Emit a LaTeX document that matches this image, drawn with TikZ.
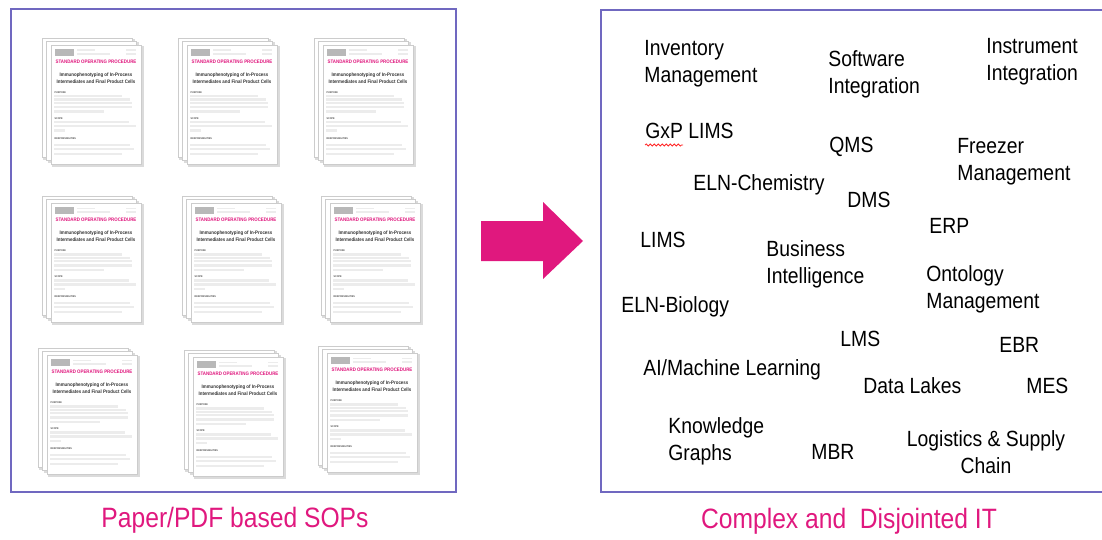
\documentclass[tikz,border=0pt]{standalone}
\usepackage{fontspec}
\setmainfont[FakeStretch=0.88]{Liberation Sans}
\usetikzlibrary{positioning}
\usetikzlibrary{decorations.pathmorphing}

\definecolor{sopPink}{RGB}{224,24,126}
\definecolor{frameBlue}{RGB}{112,104,192}
\definecolor{fillerGray}{RGB}{236,236,236}

\tikzset{
    itemtext/.style={anchor=base west, inner sep=0pt, align=left, font=\fontsize{11}{13.5}\selectfont},
    captiontext/.style={anchor=base, inner sep=0pt, text=sopPink, font=\fontsize{14}{16}\selectfont},
    sheet/.style={draw=black!20, fill=white, line width=0.3pt},
    sheetshadow/.style={fill=black!14},
    filler/.style={draw=fillerGray, line width=1.2pt},
    sopheading/.style={inner sep=0pt, text=sopPink, font=\fontsize{2.5}{3}\selectfont\bfseries},
    soptitle/.style={inner sep=0pt, align=center, text=black!80, font=\fontsize{2.5}{3.3}\selectfont\bfseries},
    soplabel/.style={anchor=west, inner sep=0pt, text=black!70, font=\fontsize{1.3}{1.5}\selectfont\bfseries}
}

\begin{document}
\begin{tikzpicture}[x=0.5pt, y=-0.5pt]

    \useasboundingbox (0,0) rectangle (1102,540);

    % the two frames
    \path[draw=frameBlue, line width=1pt] (11,9) rectangle (456,492);
    \path[draw=frameBlue, line width=1pt] (601,10) rectangle (1106,492);

    % stacks of paper SOPs
    \foreach \sx/\sy [count=\i] in {51/45, 187/45, 323/45, 51/203, 191/203, 330/203, 47/355, 193/357, 327/353} {
        \begin{scope}[shift={(\sx,\sy)}]
            \path[sheetshadow] (-8,-6) rectangle ++(91.5,120.5);
            \path[sheet] (-9,-7) rectangle ++(90,119);
            \path[sheetshadow] (-3.5,-2.5) rectangle ++(91.5,120.5);
            \path[sheet] (-4.5,-3.5) rectangle ++(90,119);
            \path[sheetshadow] (1,1) rectangle ++(91.5,120.5);
            \path[sheet] (0,0) rectangle (90,119);

            % header
            \path[fill=black!28] (4.3,4) rectangle (22.7,11.3);
            \path[filler, line width=0.8pt] (26,5.3) -- (44,5.3) (26,9) -- (59,9) (75,5.3) -- (85,5.3) (75,9) -- (85,9);
            \node[sopheading] (head\i) at (45,16.7) {STANDARD OPERATING PROCEDURE};
            \node[soptitle] (title\i) at (45,33.3) {Immunophenotyping of In-Process\\Intermediates and Final Product Cells};

            % sections
            \node[soplabel] (purpose\i) at (3.3,47.3) {PURPOSE};
            \foreach \ly/\lx in {51.3/71, 54.7/79, 58/81, 62.3/81, 66.7/53}
                \path[filler] (3.3,\ly) -- (\lx,\ly);
            \node[soplabel] (scope\i) at (3.3,74) {SCOPE};
            \foreach \ly/\lx in {77.3/78, 81.3/85, 85.7/14.3}
                \path[filler] (3.3,\ly) -- (\lx,\ly);
            \node[soplabel] (resp\i) at (3.3,93.3) {RESPONSIBILITIES};
            \foreach \ly/\lx in {100/79, 104/83, 109/71}
                \path[filler] (3.3,\ly) -- (\lx,\ly);
        \end{scope}
    }

    % the big arrow
    \path[fill=sopPink] (481,221) -- (543,221) -- (543,202) -- (583,241) -- (543,279) -- (543,261) -- (481,261) -- cycle;

    % IT systems (two-line nodes sit on their last baseline)
    \node[itemtext] (inventory) at (644,83) {Inventory\\Management};
    \node[itemtext] (software) at (828,94) {Software\\Integration};
    \node[itemtext] (instrument) at (986,81) {Instrument\\Integration};
    \node[itemtext] (gxplims) at (645,139) {GxP LIMS};
    \node[itemtext] (qms) at (829,152) {QMS};
    \node[itemtext] (freezer) at (957,180) {Freezer\\Management};
    \node[itemtext] (elnchem) at (693,190) {ELN-Chemistry};
    \node[itemtext] (dms) at (847,207) {DMS};
    \node[itemtext] (erp) at (929,233) {ERP};
    \node[itemtext] (lims) at (640,247) {LIMS};
    \node[itemtext] (business) at (766,283) {Business\\Intelligence};
    \node[itemtext] (ontology) at (926,308) {Ontology\\Management};
    \node[itemtext] (elnbio) at (621,312) {ELN-Biology};
    \node[itemtext] (lms) at (840,346) {LMS};
    \node[itemtext] (ebr) at (999,352) {EBR};
    \node[itemtext] (aiml) at (643,375) {AI/Machine Learning};
    \node[itemtext] (datalakes) at (863,393) {Data Lakes};
    \node[itemtext] (mes) at (1026,393) {MES};
    \node[itemtext] (knowledge) at (668,460) {Knowledge\\Graphs};
    \node[itemtext] (mbr) at (811,459) {MBR};
    \node[itemtext, align=center, anchor=base] (logistics) at (986,473) {Logistics \& Supply\\Chain};

    % spell-check squiggle under GxP
    \path[draw=red!85, line width=0.4pt, decorate, decoration={snake, segment length=2pt, amplitude=0.5pt}] (645,145) -- (683,145);

    % captions
    \node[captiontext] (papercap) at (235,527) {Paper/PDF based SOPs};
    \node[captiontext] (itcap) at (849,528) {Complex and \ Disjointed IT};

\end{tikzpicture}
\end{document}
